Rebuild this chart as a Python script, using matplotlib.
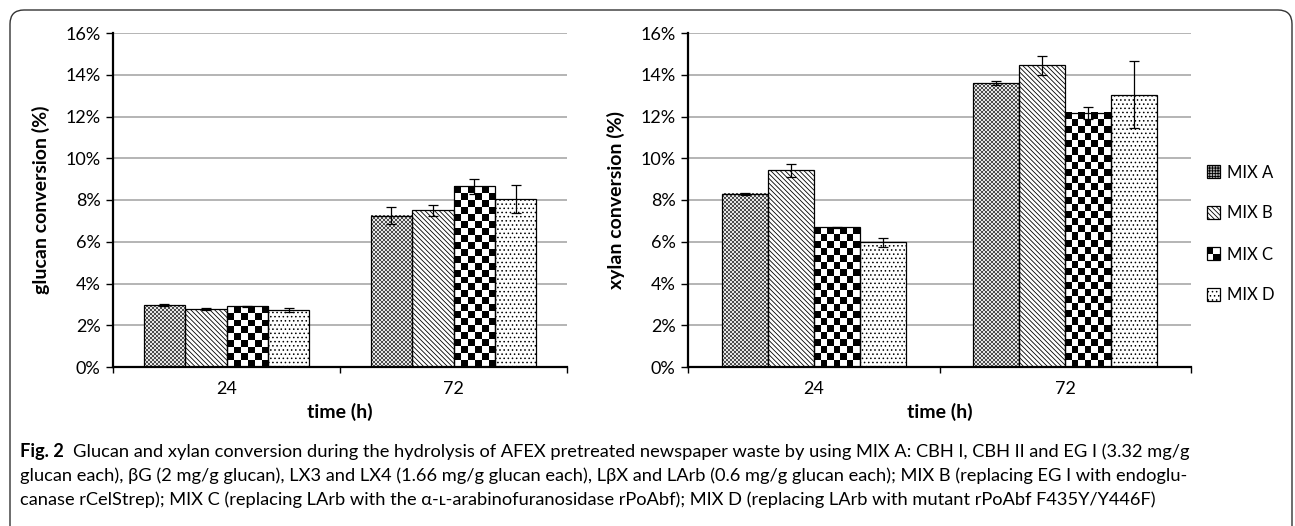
import numpy as np
import matplotlib
matplotlib.use("Agg")
import matplotlib.pyplot as plt
from matplotlib.patches import Rectangle, FancyBboxPatch, Patch
from matplotlib.legend_handler import HandlerBase
from matplotlib.transforms import IdentityTransform
from matplotlib.colors import ListedColormap

# ---------------- data ----------------
times = ["24", "72"]
mixes = ["MIX A", "MIX B", "MIX C", "MIX D"]
glucan = {
    "MIX A": [2.95, 7.25],
    "MIX B": [2.80, 7.50],
    "MIX C": [2.90, 8.65],
    "MIX D": [2.72, 8.05],
}
glucan_err = {
    "MIX A": [0.05, 0.40],
    "MIX B": [0.05, 0.28],
    "MIX C": [0.03, 0.35],
    "MIX D": [0.10, 0.65],
}
xylan = {
    "MIX A": [8.30, 13.60],
    "MIX B": [9.42, 14.45],
    "MIX C": [6.70, 12.17],
    "MIX D": [5.97, 13.05],
}
xylan_err = {
    "MIX A": [0.05, 0.08],
    "MIX B": [0.30, 0.45],
    "MIX C": [0.03, 0.30],
    "MIX D": [0.20, 1.60],
}
yticks = [0, 2, 4, 6, 8, 10, 12, 14, 16]
ylabels = ["glucan conversion (%)", "xylan conversion (%)"]
xlabel = "time (h)"
caption_bold = "Fig. 2"
caption_lines = [
    "Glucan and xylan conversion during the hydrolysis of AFEX pretreated newspaper waste by using MIX A: CBH I, CBH II and EG I (3.32 mg/g",
    "glucan each), \u03b2G (2 mg/g glucan), LX3 and LX4 (1.66 mg/g glucan each), L\u03b2X and LArb (0.6 mg/g glucan each); MIX B (replacing EG I with endoglu-",
    "canase rCelStrep); MIX C (replacing LArb with the \u03b1-\u029f-arabinofuranosidase rPoAbf); MIX D (replacing LArb with mutant rPoAbf F435Y/Y446F)",
]

# ---------------- style ----------------
W, H = 1295, 526
DPI = 100
FONT = ["Lato", "DejaVu Sans"]
CAPFONT = ["Lato", "DejaVu Sans"]
plt.rcParams["font.family"] = FONT
plt.rcParams["hatch.linewidth"] = 0.6

TICKFS = 13
LABFS = 14

styles = {
    "MIX A": dict(face="#a0a0a0", hcol="#a0a0a0", hatch=None),
    "MIX B": dict(face="white", hcol="black", hatch="\\\\\\\\\\\\\\"),
    "MIX C": dict(face="white", hcol="black", hatch=None),
    "MIX D": dict(face="white", hcol="black", hatch="...."),
}
checker_cell = {"MIX A": 2.0, "MIX C": 7.0}
checker_cmap = {
    "MIX A": ListedColormap(["#e6e6e6", "#4d4d4d"]),
    "MIX C": ListedColormap(["white", "black"]),
}

fig = plt.figure(figsize=(W / DPI, H / DPI), dpi=DPI)

# rounded frame
frame = FancyBboxPatch((10, -40), 1282, H - 10 + 40,
                       boxstyle="round,pad=0,rounding_size=14",
                       transform=IdentityTransform(), facecolor="none",
                       edgecolor="#333333", linewidth=1.0)
fig.patches.append(frame)

ax_pos = [
    [113 / W, (H - 367) / H, 454 / W, 334 / H],
    [688 / W, (H - 367) / H, 503 / W, 334 / H],
]

nb = len(mixes)
bw = 0.73 / nb
x = np.arange(len(times))


def draw_panel(ax, data, err, ylabel):
    ax.set_xlim(-0.5, len(times) - 0.5)
    ax.set_ylim(0, 16)
    ax.set_yticks(yticks)
    ax.set_yticklabels([f"{t}%" for t in yticks], fontsize=TICKFS)
    ax.yaxis.grid(True, color="#a8a8a8", linewidth=1.2)
    ax.set_axisbelow(True)
    for s in ["top", "right"]:
        ax.spines[s].set_visible(False)
    for s in ["left", "bottom"]:
        ax.spines[s].set_linewidth(1.6)
    ax.tick_params(axis="y", length=5, width=1.0, direction="out", pad=4)
    ax.set_xticks(x)
    ax.set_xticklabels(times, fontsize=TICKFS)
    ax.set_xticks(np.arange(len(times) + 1) - 0.5, minor=True)
    ax.tick_params(axis="x", which="major", length=0, pad=10)
    ax.tick_params(axis="x", which="minor", length=4, width=1.0, direction="out")
    ax.set_ylabel(ylabel, fontsize=LABFS, fontweight="bold", labelpad=11)
    ax.set_xlabel(xlabel, fontsize=LABFS, fontweight="bold", labelpad=4)

    for i, m in enumerate(mixes):
        st = styles[m]
        pos = x + (i - (nb - 1) / 2) * bw
        bars = ax.bar(pos, data[m], bw, color=st["face"], edgecolor=st["hcol"],
                      hatch=st["hatch"], linewidth=0, zorder=2)
        if m in checker_cell:
            cell = checker_cell[m]
            for p in bars:
                x0, y0 = p.get_x(), p.get_y()
                w, h = p.get_width(), p.get_height()
                px0, py0 = ax.transData.transform((x0, y0))
                px1, py1 = ax.transData.transform((x0 + w, y0 + h))
                nc = max(1, int(round((px1 - px0) / cell)))
                nr = max(1, int(round((py1 - py0) / cell)))
                arr = np.add.outer(np.arange(nr), np.arange(nc)) % 2
                ax.imshow(arr, cmap=checker_cmap[m], vmin=0, vmax=1,
                          extent=(x0, x0 + w, y0, y0 + h),
                          aspect="auto", interpolation="nearest", origin="lower", zorder=2.5)
        ax.bar(pos, data[m], bw, fill=False, edgecolor="black", linewidth=0.9, zorder=3)
        ax.errorbar(pos, data[m], yerr=err[m], fmt="none", ecolor="black",
                    elinewidth=0.9, capsize=3.3, capthick=0.9, zorder=4)
    ax.set_xlim(-0.5, len(times) - 0.5)
    ax.set_ylim(0, 16)


ax1 = fig.add_axes(ax_pos[0])
draw_panel(ax1, glucan, glucan_err, ylabels[0])
ax2 = fig.add_axes(ax_pos[1])
draw_panel(ax2, xylan, xylan_err, ylabels[1])


# ---------------- legend ----------------
class CheckerHandler(HandlerBase):
    def create_artists(self, legend, orig_handle, xdescent, ydescent, width, height, fontsize, trans):
        x0, y0 = -xdescent, -ydescent
        arts = [Rectangle((x0, y0), width, height, facecolor="white", edgecolor="none", transform=trans)]
        arts.append(Rectangle((x0, y0 + height / 2), width / 2, height / 2, facecolor="black",
                              edgecolor="none", transform=trans))
        arts.append(Rectangle((x0 + width / 2, y0), width / 2, height / 2, facecolor="black",
                              edgecolor="none", transform=trans))
        arts.append(Rectangle((x0, y0), width, height, facecolor="none", edgecolor="black",
                              linewidth=0.9, transform=trans))
        return arts


handles = []
for m in mixes:
    st = styles[m]
    if m == "MIX C":
        handles.append(Patch(facecolor="white", edgecolor="black"))
    elif m == "MIX A":
        handles.append(Patch(facecolor="#b0b0b0", edgecolor="black", hatch="++++++", linewidth=0.9))
    else:
        handles.append(Patch(facecolor=st["face"], edgecolor="black", hatch=st["hatch"], linewidth=0.9))
leg = fig.legend(handles, mixes, loc="center left", bbox_to_anchor=(1200 / W, (H - 234) / H),
                 frameon=False, fontsize=12, handlelength=0.8, handleheight=0.8,
                 handletextpad=0.4, labelspacing=1.5, borderaxespad=0,
                 handler_map={handles[2]: CheckerHandler()})

# ---------------- caption ----------------
renderer = fig.canvas.get_renderer()
cap_y = [H - 452, H - 476, H - 500]
target_w = 1187 - 20  # width of line 2 in pixels
probe = fig.text(0, 0, caption_lines[1], fontsize=10, family=CAPFONT)
pw = probe.get_window_extent(renderer).width
probe.remove()
cfs = 10 * target_w / pw

tb = fig.text(20 / W, cap_y[0] / H, caption_bold, fontsize=cfs, fontweight="bold",
              family=CAPFONT, va="center", ha="left")
bw_px = tb.get_window_extent(renderer).width
fig.text((20 + bw_px + cfs * 1.39 * 0.5) / W, cap_y[0] / H, caption_lines[0], fontsize=cfs,
         family=CAPFONT, va="center", ha="left")
fig.text(20 / W, cap_y[1] / H, caption_lines[1], fontsize=cfs, family=CAPFONT, va="center", ha="left")
fig.text(20 / W, cap_y[2] / H, caption_lines[2], fontsize=cfs, family=CAPFONT, va="center", ha="left")

fig.savefig("out.png", dpi=DPI)
